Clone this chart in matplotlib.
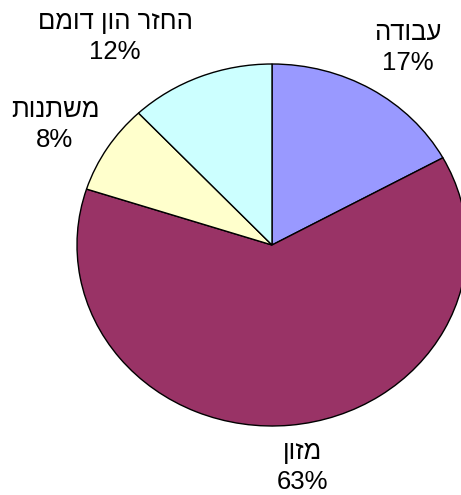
import matplotlib
matplotlib.use("Agg")
import matplotlib.pyplot as plt

# Data (Hebrew labels in logical order, clockwise from 12 o'clock)
categories = ["עבודה", "מזון", "משתנות", "החזר הון דומם"]
shares = [17, 63, 8, 12]
colors = ["#9999FF", "#993366", "#FFFFCC", "#CCFFFF"]

# label centres in data units (pie radius = 1)
label_xy = [(0.697, 1.088), (0.154, -1.227), (-1.113, 0.663), (-0.805, 1.149)]

plt.rcParams["font.family"] = ["Liberation Sans", "DejaVu Sans"]

fig = plt.figure(figsize=(4.61, 4.95), dpi=100)
ax = fig.add_axes([0, 0, 1, 1])

ax.pie(shares, colors=colors, startangle=90, counterclock=False,
       wedgeprops=dict(edgecolor="black", linewidth=1.0))

# the original pie is slightly wider than tall
ax.set_aspect("auto")
ax.set_xlim(-272 / 195, (461 - 272) / 195)
ax.set_ylim(-(495 - 245) / 181, 245 / 181)
ax.axis("off")

for name, val, (x, y) in zip(categories, shares, label_xy):
    # matplotlib has no bidi support, so reverse the Hebrew text for display
    ax.text(x, y, name[::-1] + "\n" + f"{val}%", ha="center", va="center",
            multialignment="center", fontsize=18.5, linespacing=1.3)

fig.savefig("out.png", dpi=100)
